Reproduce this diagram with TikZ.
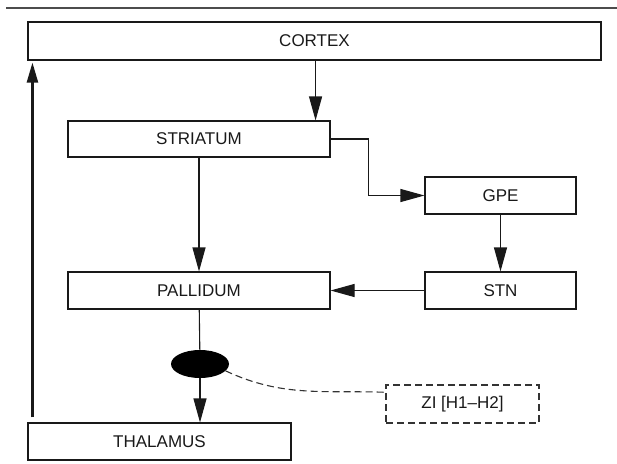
\documentclass[tikz,border=0pt]{standalone}
\usepackage{fontspec}
\setmainfont{Liberation Sans}
\usetikzlibrary{arrows.meta, calc, shapes.geometric}

\begin{document}
\begin{tikzpicture}[x=1pt, y=-1pt,
	box/.style={draw=black!90, line width=1.1pt, inner sep=0pt, font=\fontsize{17}{20}\selectfont, text=black!90},
	arr/.style={line width=1.1pt, draw=black!90, -{Triangle[length=24pt, width=13pt]}}]
	\useasboundingbox (0,0) rectangle (617,463);
	\draw[line width=1.5pt, black!70] (6,8) -- (617,8);
	\node[box, minimum width=573pt, minimum height=38pt] (cortex) at (314.5,41) {CORTEX};
	\node[box, minimum width=262pt, minimum height=36pt] (striatum) at (199,139) {STRIATUM};
	\node[box, minimum width=151pt, minimum height=37pt] (gpe) at (500.5,195.5) {GPE};
	\node[box, minimum width=151pt, minimum height=37pt] (stn) at (500.5,290.5) {STN};
	\node[box, minimum width=262pt, minimum height=37pt] (pallidum) at (199,290.5) {PALLIDUM};
	\node[box, minimum width=263pt, minimum height=37pt] (thalamus) at (159.5,441.5) {THALAMUS};
	\node[box, draw=black!80, dash pattern=on 7pt off 4pt, minimum width=153pt, minimum height=38pt] (zi) at (462.5,404) {ZI [H1--H2]};
	\node[ellipse, fill=black, minimum width=58pt, minimum height=28pt, inner sep=0pt] (zona) at (200,364) {};
	\draw[arr] ([xshift=-15pt]striatum.north east |- cortex.south) -- ([xshift=-15pt]striatum.north east);
	\draw[arr] (striatum.east) -- ++(38,0) |- (gpe.west);
	\draw[arr] (gpe) -- (stn);
	\draw[arr] (stn) -- (pallidum);
	\draw[arr] (striatum) -- (pallidum);
	\draw[line width=1.1pt, black!90] (pallidum) -- (zona);
	\draw[arr] (zona.south) -- (zona.south |- thalamus.north);
	\draw[arr, line width=2.3pt, -{Triangle[length=20pt, width=11pt]}] ([shift={(5,-5)}]thalamus.north west) -- ([shift={(5,2)}]cortex.south west);
	\draw[line width=1.1pt, black!80, dash pattern=on 7pt off 4pt] (zona.-15) to[out=-25, in=178] ($(zi.north west)!0.2!(zi.south west)$);
\end{tikzpicture}
\end{document}
